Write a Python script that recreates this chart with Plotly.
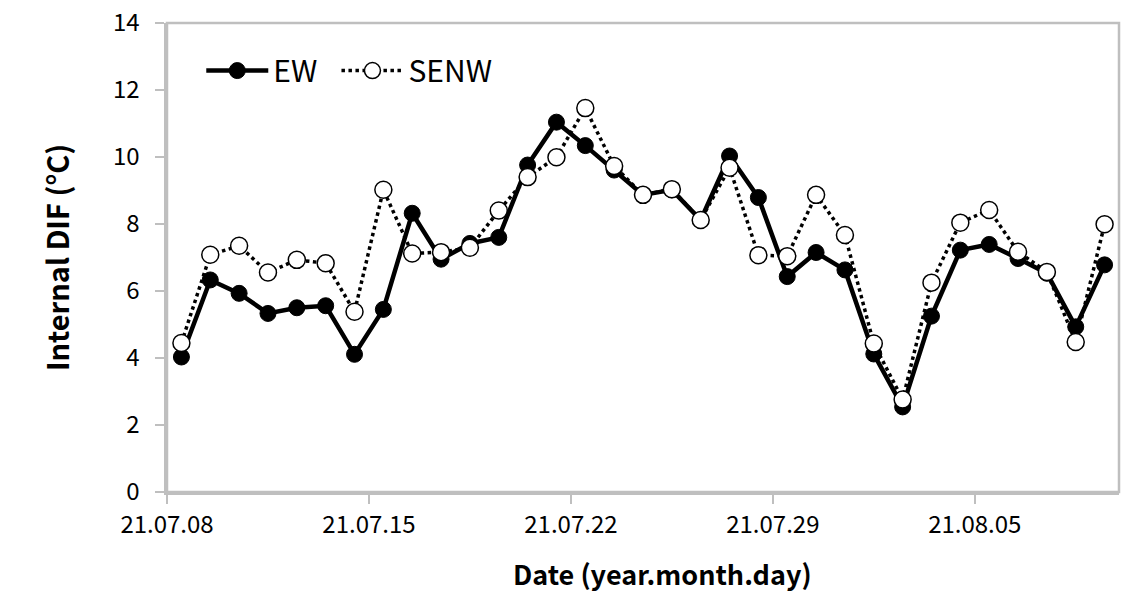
import plotly.graph_objects as go

day_index = list(range(33))
tick_days = [0, 7, 14, 21, 28]
tick_labels = ["21.07.08", "21.07.15", "21.07.22", "21.07.29", "21.08.05"]
y_ticks = [0, 2, 4, 6, 8, 10, 12, 14]

ew = [4.03, 6.33, 5.93, 5.33, 5.50, 5.56, 4.11, 5.45, 8.32, 6.95,
      7.42, 7.60, 9.76, 11.04, 10.34, 9.61, 8.87, 9.02, 8.12, 10.03,
      8.79, 6.43, 7.15, 6.63, 4.12, 2.54, 5.25, 7.22, 7.39, 6.97,
      6.53, 4.93, 6.78]
senw = [4.45, 7.08, 7.35, 6.55, 6.93, 6.83, 5.38, 9.02, 7.12, 7.16,
        7.29, 8.40, 9.40, 9.99, 11.46, 9.73, 8.87, 9.04, 8.12, 9.68,
        7.07, 7.04, 8.87, 7.67, 4.43, 2.76, 6.25, 8.04, 8.42, 7.17,
        6.57, 4.48, 7.99]

x_pos = [d + 0.5 for d in day_index]
FONT = "Noto Sans CJK KR"
axis_line = "#bfbfbf"

fig = go.Figure()
fig.add_trace(go.Scatter(
    x=x_pos, y=ew, name="EW", mode="lines+markers", legend="legend",
    line=dict(color="black", width=4.5),
    marker=dict(symbol="circle", size=16, color="black",
                line=dict(color="black", width=1)),
))
fig.add_trace(go.Scatter(
    x=x_pos, y=senw, name="SENW", mode="lines+markers", legend="legend2",
    line=dict(color="black", width=3.5, dash="dot"),
    marker=dict(symbol="circle", size=17, color="white",
                line=dict(color="black", width=1.5)),
))

legend_style = dict(orientation="h", y=0.954, xanchor="left", yanchor="top",
                    bgcolor="rgba(0,0,0,0)", itemwidth=62,
                    font=dict(family=FONT, size=30, color="black"))

fig.update_layout(
    width=1120, height=587,
    margin=dict(l=159, r=9, t=15, b=103),
    paper_bgcolor="white", plot_bgcolor="white",
    font=dict(family=FONT, size=22, color="black"),
    showlegend=True,
    legend=dict(x=0.036, **legend_style),
    legend2=dict(x=0.178, **legend_style),
    xaxis=dict(
        range=[0, 33], tickmode="array", tickvals=tick_days, ticktext=tick_labels,
        showgrid=False, zeroline=False, automargin=False,
        showline=True, linecolor=axis_line, linewidth=2.5,
        ticks="outside", ticklen=9, tickcolor=axis_line, tickwidth=2,
        tickfont=dict(family=FONT, size=24),
    ),
    yaxis=dict(
        range=[0, 14], tickmode="array", tickvals=y_ticks,
        ticktext=[f"{v}\u00a0\u00a0" for v in y_ticks],
        showgrid=False, zeroline=False, automargin=False,
        showline=True, linecolor=axis_line, linewidth=2.5,
        ticks="outside", ticklen=9, tickcolor=axis_line, tickwidth=2,
        ticklabeloverflow="allow",
        tickfont=dict(family=FONT, size=24),
        title=dict(text="<b>Internal DIF (°C)</b>",
                   font=dict(family=FONT, size=29), standoff=35),
    ),
    shapes=[dict(type="rect", xref="paper", yref="paper", x0=0, x1=1, y0=0, y1=1,
                 line=dict(color=axis_line, width=2.5), layer="below")],
    annotations=[dict(
        text="<b>Date (year.month.day)</b>", xref="paper", yref="paper",
        x=0.52, y=0, xanchor="center", yanchor="middle", yshift=-81,
        showarrow=False, font=dict(family=FONT, size=27, color="black"),
    )],
)

fig.write_html("out.html")
